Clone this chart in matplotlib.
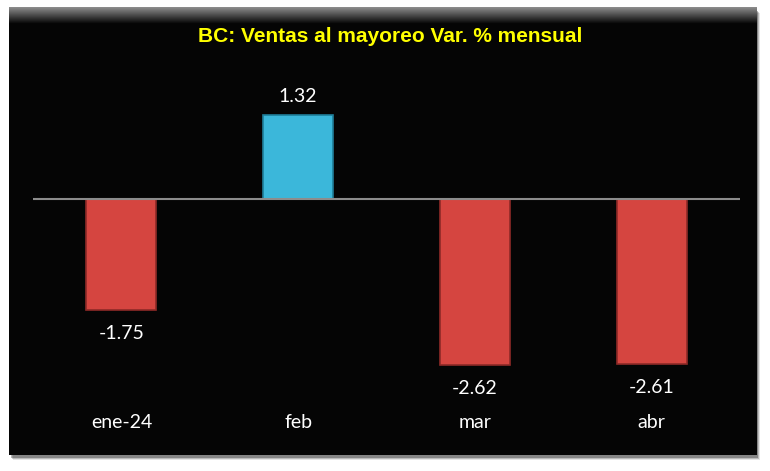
import matplotlib
matplotlib.use("Agg")
import matplotlib.pyplot as plt
from matplotlib.patches import Rectangle
import numpy as np

meses   = ["ene-24", "feb", "mar", "abr"]
valores = [-1.75, 1.32, -2.62, -2.61]
titulo  = "BC: Ventas al mayoreo Var. % mensual"

W, H = 770, 471
fig = plt.figure(figsize=(W / 100, H / 100), dpi=100)
fig.patch.set_facecolor("white")

# background panel, drawn in pixel coords
bg = fig.add_axes([0, 0, 1, 1])
bg.set_xlim(0, W)
bg.set_ylim(H, 0)
bg.axis("off")
# soft shadow
for k, a in enumerate([0.10, 0.18, 0.28]):
    bg.add_patch(Rectangle((10 + 3 - k, 10 + 3 - k), 747, 447, facecolor="black",
                           alpha=a, edgecolor="none", zorder=0))
bg.add_patch(Rectangle((9, 7), 748, 448, facecolor="#050505", edgecolor="none", zorder=1))
# top bevel gradient
grad = np.linspace(0.55, 0.02, 30).reshape(-1, 1)
bg.imshow(grad, extent=(9, 757, 24, 7), cmap="gray", vmin=0, vmax=1,
          aspect="auto", zorder=2)

bg.text(390, 37, titulo, color="#FFFF00", fontsize=15, fontweight="bold",
        family=["Liberation Sans Narrow", "Liberation Sans", "DejaVu Sans"],
        ha="center", va="center", zorder=3)

# chart axes: zero line at y=199px, scale ~63.4 px per unit
px = 63.4
top_px, bot_px = 80, 390
ax = fig.add_axes([33 / W, 1 - bot_px / H, (740 - 33) / W, (bot_px - top_px) / H])
ax.set_facecolor("none")
ax.set_xlim(-0.5, 3.5)
ax.set_ylim(-(bot_px - 199) / px, (199 - top_px) / px)
ax.axis("off")

x = np.arange(len(meses))
colores = ["#D54540" if v < 0 else "#3BB7DA" for v in valores]
bordes = ["#8E2A27" if v < 0 else "#1F7E99" for v in valores]
ax.bar(x, valores, width=0.395, color=colores, edgecolor=bordes, linewidth=1.2, zorder=2)
ax.axhline(0, color="#8C8C8C", linewidth=1.5, zorder=3)

fuente = ["Lato", "DejaVu Sans"]
for xi, v in zip(x, valores):
    off = 0.29 if v > 0 else -0.37
    ax.text(xi, v + off, f"{v:.2f}", color="white", fontsize=14,
            family=fuente, ha="center", va="center")
    ax.text(xi, -(422 - 199) / px, meses[xi], color="white", fontsize=14,
            family=fuente, ha="center", va="center", clip_on=False)

fig.savefig("out.png", dpi=100, facecolor="white")
